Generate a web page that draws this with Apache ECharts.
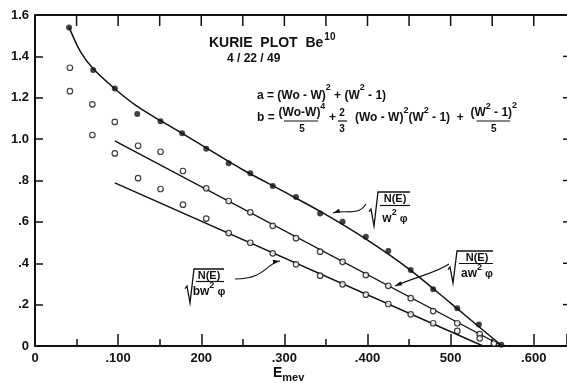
<!DOCTYPE html>
<html><head><meta charset="utf-8">
<script src="https://cdn.jsdelivr.net/npm/echarts@6/dist/echarts.min.js"></script>
<style>html,body{margin:0;padding:0;background:#fff}#c{width:567px;height:383px}</style>
</head><body><div id="c"></div>
<script>
// ---- data ----
const energyFilled = [0.041,0.070,0.096,0.123,0.151,0.177,0.206,0.233,0.259,0.286,0.314,0.343,0.370,0.398,0.425,0.452,0.479,0.508,0.534,0.561];
const kuriePlain   = [1.540,1.334,1.245,1.121,1.087,1.028,0.953,0.883,0.835,0.773,0.720,0.641,0.601,0.528,0.459,0.367,0.274,0.182,0.104,0.006];
const energyA = [0.042,0.069,0.096,0.124,0.151,0.178,0.206,0.233,0.259,0.286,0.314,0.343,0.370,0.398,0.425,0.452,0.479,0.508,0.535,0.552];
const kurieA  = [1.345,1.168,1.083,0.968,0.939,0.846,0.762,0.701,0.646,0.581,0.521,0.456,0.407,0.343,0.291,0.231,0.169,0.110,0.057,0.012];
const energyB = [0.042,0.069,0.096,0.124,0.151,0.178,0.206,0.233,0.259,0.286,0.314,0.343,0.370,0.398,0.425,0.452,0.479,0.508,0.535];
const kurieB  = [1.232,1.020,0.931,0.811,0.759,0.683,0.616,0.546,0.499,0.448,0.395,0.340,0.298,0.248,0.203,0.153,0.110,0.073,0.037];
// fitted curves
const fitPlainX = [0.041,0.055,0.070,0.097,0.123,0.151,0.177,0.200,0.250,0.300,0.350,0.400,0.450,0.500,0.562];
const fitPlainY = [1.540,1.420,1.340,1.240,1.158,1.089,1.028,0.972,0.852,0.745,0.635,0.512,0.372,0.207,0.000];
const fitAX = [0.096,0.562];
const fitAY = [0.992,0.000];
const fitBX = [0.096,0.539];
const fitBY = [0.789,0.000];
// axis ranges and tick labels
const xRange = [0, 0.64];
const yRange = [0, 1.6];
const xTickValues = [0,0.1,0.2,0.3,0.4,0.5,0.6];
const xTickLabels = ['0','.100','200','.300','.400','500','.600'];
const topTickValues = [0.05,0.1,0.15,0.2,0.25,0.3,0.35,0.4,0.45,0.5,0.55,0.6];
const yTickValues = [0,0.2,0.4,0.6,0.8,1.0,1.2,1.4,1.6];
const yTickLabels = ['0','.2','.4','.6','.8','1.0','1.2','1.4','1.6'];
const rightTickValues = [0.2,0.4,0.6,0.8,1.0,1.2,1.4];

const FONT = "'Liberation Sans', Arial, sans-serif";
const INK = '#111';
const zip = (xs, ys) => xs.map((x, i) => [x, ys[i]]);
const findLabel = (vals, labels, v) => { const i = vals.findIndex(t => Math.abs(t - v) < 1e-6); return i < 0 ? '' : labels[i]; };

// ---- annotation helpers (pixel layout) ----
const mctx = document.createElement('canvas').getContext('2d');
function tw(t, s) { mctx.font = 'bold ' + s + 'px ' + FONT; return mctx.measureText(t).width; }
function txt(x, y, t, s, align) {
  return { type: 'text', x: x, y: y, silent: true,
    style: { text: t, font: 'bold ' + s + 'px ' + FONT, fontSize: s, fontWeight: 'bold', fontFamily: FONT,
      fill: INK, align: align || 'left', verticalAlign: 'middle', textAlign: align || 'left', textVerticalAlign: 'middle' } };
}
function run(out, x, y, pieces) {
  let cx = x;
  pieces.forEach(p => { out.push(txt(cx, y + (p[2] || 0), p[0], p[1])); cx += tw(p[0], p[1]); });
  return cx;
}
function runWidth(pieces) { return pieces.reduce((a, p) => a + tw(p[0], p[1]), 0); }
function seg(out, x1, y1, x2, y2, w) {
  out.push({ type: 'line', silent: true, shape: { x1, y1, x2, y2 }, style: { stroke: INK, lineWidth: w || 1.2 } });
}
function frac(out, cx, yNum, yBar, yDen, numPieces, den, barL, barR) {
  const w = runWidth(numPieces);
  run(out, cx - w / 2, yNum, numPieces);
  seg(out, barL, yBar, barR, yBar, 1.2);
  out.push(txt(cx, yDen, den, 10, 'center'));
}
function sqrtLabel(out, L, T, R, H, numCx, numY, barY, denPieces, denY) {
  out.push({ type: 'polyline', silent: true,
    shape: { points: [[L, T + 0.58 * H], [L + 2, T + 0.5 * H], [L + 5, T + H], [L + 9, T], [R, T]] },
    style: { stroke: INK, lineWidth: 1.3, fill: null } });
  out.push(txt(numCx, numY, 'N(E)', 11, 'center'));
  seg(out, L + 11, barY, R, barY, 1.2);
  const w = runWidth(denPieces);
  run(out, numCx - w / 2, denY, denPieces);
}
function arrow(out, tip, c1, c2, end) {
  out.push({ type: 'bezierCurve', silent: true,
    shape: { x1: tip[0], y1: tip[1], cpx1: c1[0], cpy1: c1[1], cpx2: c2[0], cpy2: c2[1], x2: end[0], y2: end[1] },
    style: { stroke: INK, lineWidth: 1.1, fill: null } });
  const dx = c1[0] - tip[0], dy = c1[1] - tip[1], d = Math.hypot(dx, dy);
  const ux = dx / d, uy = dy / d, len = 7, hw = 2.2;
  out.push({ type: 'polygon', silent: true,
    shape: { points: [[tip[0], tip[1]], [tip[0] + ux * len - uy * hw, tip[1] + uy * len + ux * hw], [tip[0] + ux * len + uy * hw, tip[1] + uy * len - ux * hw]] },
    style: { fill: INK } });
}

const g = [];
// title
let e = run(g, 209, 43, [['KURIE  PLOT  Be', 14, 0]]);
g.push(txt(e + 1, 37, '10', 10));
g.push(txt(227, 59, '4 / 22 / 49', 12));
// formula a
run(g, 257, 96, [['a = (Wo - W)', 12, 0], ['2', 9, -8], [' + (W', 12, 0], ['2', 9, -8], [' - 1)', 12, 0]]);
// formula b
run(g, 257, 118, [['b =', 12, 0]]);
frac(g, 302, 113, 121, 129, [['(Wo-W)', 12, 0], ['4', 9, -6]], '5', 284, 318);
g.push(txt(329, 118, '+', 12));
g.push(txt(342, 113, '2', 10, 'center')); seg(g, 338, 121, 347, 121, 1.2); g.push(txt(342, 129, '3', 10, 'center'));
e = run(g, 355, 118, [['(Wo - W)', 12, 0], ['2', 9, -7], ['(W', 12, 0], ['2', 9, -7], [' - 1)  +  ', 12, 0]]);
const numC = [['(W', 12, 0], ['2', 9, -6], [' - 1)', 12, 0], ['2', 9, -7]];
const wC = runWidth(numC);
frac(g, e + wC / 2, 113, 121, 129, numC, '5', e + 6, e + wC - 7);
// sqrt labels and arrows
sqrtLabel(g, 369, 192, 410, 34, 395, 199, 205.5, [['w', 12, 0], ['2', 9, -6], [' \u03c6', 11, 0]], 219);
arrow(g, [333, 213], [345, 209], [358, 217], [366, 204]);
sqrtLabel(g, 448, 251, 493, 32, 477, 257.5, 263.5, [['aw', 12, 0], ['2', 9, -6], [' \u03c6', 11, 0]], 274);
arrow(g, [395, 286], [418, 276], [436, 273], [449, 264]);
sqrtLabel(g, 185, 269, 224, 34, 209, 275.5, 281.5, [['bw', 12, 0], ['2', 9, -6], [' \u03c6', 11, 0]], 292);
arrow(g, [280, 261], [266, 263], [266, 279], [235, 279]);
// axis name E_mev
e = run(g, 273, 373, [['E', 14, 0]]);
run(g, e, 378, [['mev', 11, 0]]);

const axisText = { color: INK, fontSize: 13, fontWeight: 'bold', fontFamily: FONT };
const chart = echarts.init(document.getElementById('c'), null, { renderer: 'canvas' });
chart.setOption({
  animation: false,
  backgroundColor: '#fff',
  grid: { left: 35, right: 0, top: 15, bottom: 37, containLabel: false, outerBoundsMode: 'none' },
  xAxis: [
    { type: 'value', position: 'bottom', min: xRange[0], max: xRange[1], interval: 0.1,
      axisLine: { show: true, onZero: false, lineStyle: { color: INK, width: 2 } },
      axisTick: { show: true, inside: true, length: 12, lineStyle: { color: INK, width: 1.5 } },
      minorTick: { show: true, splitNumber: 2, length: 7, lineStyle: { color: INK, width: 1.5 } },
      axisLabel: Object.assign({ margin: 6, formatter: v => findLabel(xTickValues, xTickLabels, v) }, axisText),
      splitLine: { show: false }, minorSplitLine: { show: false } }
  ],
  yAxis: [
    { type: 'value', position: 'left', min: yRange[0], max: yRange[1], interval: 0.2,
      axisLine: { show: true, onZero: false, lineStyle: { color: INK, width: 2 } },
      axisTick: { show: true, inside: true, length: 8, lineStyle: { color: INK, width: 1.5 } },
      axisLabel: Object.assign({ margin: 6, formatter: v => findLabel(yTickValues, yTickLabels, v) }, axisText),
      splitLine: { show: false } }
  ],
  series: [
    // top frame line at the y maximum
    { type: 'line', name: 'frameTop', data: zip(xRange, [yRange[1], yRange[1]]), symbol: 'none', clip: false,
      lineStyle: { color: INK, width: 2 }, z: 1, silent: true },
    // top ticks every 0.05, pointing down
    { type: 'custom', name: 'topTicks', clip: false, silent: true, z: 1,
      data: topTickValues.map(v => [v, yRange[1]]), encode: { x: 0, y: 1 },
      renderItem: (params, api) => { const p = api.coord([api.value(0), api.value(1)]);
        return { type: 'line', shape: { x1: p[0], y1: p[1], x2: p[0], y2: p[1] + 11 }, style: { stroke: INK, lineWidth: 1.5 } }; } },
    // right-edge ticks every 0.2, pointing left
    { type: 'custom', name: 'rightTicks', clip: false, silent: true, z: 1,
      data: rightTickValues.map(v => [xRange[1], v]), encode: { x: 0, y: 1 },
      renderItem: (params, api) => { const p = api.coord([api.value(0), api.value(1)]);
        return { type: 'line', shape: { x1: p[0], y1: p[1], x2: p[0] - 4, y2: p[1] }, style: { stroke: INK, lineWidth: 1.5 } }; } },
    { type: 'line', name: 'fitPlain', data: zip(fitPlainX, fitPlainY), smooth: 0.3,
      symbol: 'none', lineStyle: { color: INK, width: 1.5 }, z: 2 },
    { type: 'line', name: 'fitA', data: zip(fitAX, fitAY), symbol: 'none', lineStyle: { color: INK, width: 1.4 }, z: 2 },
    { type: 'line', name: 'fitB', data: zip(fitBX, fitBY), symbol: 'none', lineStyle: { color: INK, width: 1.4 }, z: 2 },
    { type: 'scatter', name: 'plain', data: zip(energyFilled, kuriePlain), symbol: 'circle', symbolSize: 6,
      itemStyle: { color: INK }, z: 3 },
    { type: 'scatter', name: 'a', data: zip(energyA, kurieA), symbol: 'circle', symbolSize: 5.5,
      itemStyle: { color: '#fff', borderColor: INK, borderWidth: 1.2 }, z: 3 },
    { type: 'scatter', name: 'b', data: zip(energyB, kurieB), symbol: 'circle', symbolSize: 5.5,
      itemStyle: { color: '#fff', borderColor: INK, borderWidth: 1.2 }, z: 3 }
  ],
  graphic: { elements: g }
});
</script>
</body></html>
